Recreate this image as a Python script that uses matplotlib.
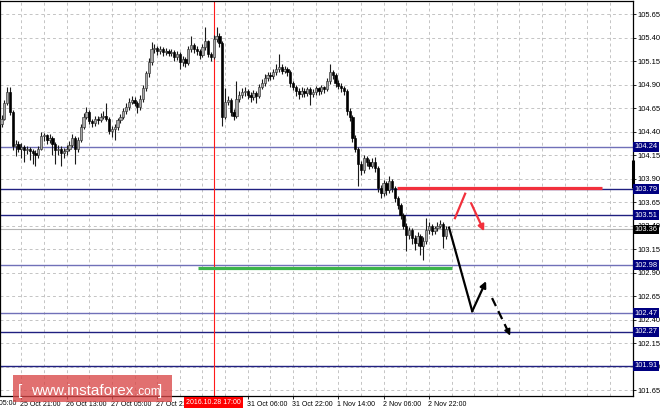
import matplotlib
matplotlib.use("Agg")
import matplotlib.pyplot as plt
from matplotlib.patches import Rectangle
import matplotlib.transforms as mtransforms
import numpy as np

# ---------------- data (USD/JPY H1) ----------------
opens = [104.48, 104.54, 104.70, 104.82, 104.61, 104.25, 104.27, 104.22, 104.24, 104.20,
         104.22, 104.19, 104.17, 104.15, 104.22, 104.35, 104.36, 104.31, 104.33, 104.27,
         104.20, 104.22, 104.17, 104.19, 104.22, 104.26, 104.33, 104.22, 104.31, 104.45,
         104.56, 104.61, 104.51, 104.49, 104.54, 104.52, 104.56, 104.57, 104.54, 104.41,
         104.43, 104.45, 104.52, 104.56, 104.62, 104.66, 104.72, 104.74, 104.71, 104.66,
         104.75, 104.86, 105.02, 105.14, 105.28, 105.29, 105.26, 105.28, 105.25, 105.26,
         105.24, 105.25, 105.19, 105.23, 105.14, 105.17, 105.13, 105.28, 105.32, 105.28,
         105.26, 105.22, 105.30, 105.36, 105.23, 105.19, 105.39, 105.42, 105.34, 104.56,
         104.72, 104.74, 104.61, 104.57, 104.75, 104.79, 104.82, 104.83, 104.79, 104.77,
         104.81, 104.78, 104.88, 104.92, 104.97, 105.00, 104.99, 105.03, 105.07, 105.09,
         105.05, 105.07, 105.04, 104.92, 104.88, 104.83, 104.80, 104.83, 104.81, 104.85,
         104.80, 104.82, 104.86, 104.83, 104.87, 104.85, 104.94, 105.03, 105.00, 104.92,
         104.89, 104.86, 104.83, 104.62, 104.56, 104.33, 104.22, 104.06, 103.99, 104.12,
         104.08, 104.04, 104.08, 104.01, 103.80, 103.75, 103.85, 103.78, 103.87, 103.80,
         103.69, 103.62, 103.51, 103.40, 103.30, 103.35, 103.27, 103.22, 103.29, 103.18,
         103.24, 103.35, 103.40, 103.34, 103.37, 103.40, 103.42, 103.29]
highs = [104.58, 104.74, 104.88, 104.87, 104.63, 104.31, 104.30, 104.28, 104.26, 104.25,
         104.24, 104.22, 104.20, 104.25, 104.40, 104.39, 104.38, 104.37, 104.35, 104.29,
         104.26, 104.25, 104.23, 104.26, 104.30, 104.37, 104.35, 104.34, 104.48, 104.60,
         104.66, 104.63, 104.54, 104.57, 104.57, 104.60, 104.62, 104.70, 104.56, 104.46,
         104.48, 104.55, 104.59, 104.65, 104.70, 104.76, 104.78, 104.77, 104.73, 104.79,
         104.90, 105.05, 105.18, 105.35, 105.33, 105.31, 105.31, 105.30, 105.29, 105.28,
         105.28, 105.27, 105.26, 105.25, 105.20, 105.19, 105.31, 105.42, 105.34, 105.31,
         105.28, 105.33, 105.51, 105.38, 105.25, 105.43, 105.51, 105.45, 105.36, 104.86,
         104.78, 104.76, 104.64, 104.94, 104.83, 104.86, 104.87, 104.85, 104.82, 104.84,
         104.83, 104.91, 104.96, 105.01, 105.04, 105.03, 105.07, 105.12, 105.23, 105.12,
         105.10, 105.09, 105.06, 104.94, 104.90, 104.86, 104.87, 104.86, 104.88, 104.87,
         104.85, 104.89, 104.88, 104.90, 104.89, 104.97, 105.12, 105.06, 105.02, 104.95,
         104.92, 104.89, 104.85, 104.65, 104.58, 104.36, 104.24, 104.09, 104.15, 104.14,
         104.11, 104.12, 104.13, 104.03, 103.83, 103.89, 103.88, 103.93, 103.90, 103.82,
         103.72, 103.64, 103.54, 103.43, 103.39, 103.38, 103.30, 103.33, 103.31, 103.28,
         103.48, 103.44, 103.42, 103.40, 103.44, 103.46, 103.44, 103.40]
lows = [104.45, 104.52, 104.68, 104.58, 104.20, 104.14, 104.18, 104.12, 104.08, 104.16,
        104.10, 104.06, 104.03, 104.12, 104.20, 104.30, 104.27, 104.28, 104.15, 104.06,
        104.15, 104.03, 104.12, 104.15, 104.19, 104.24, 104.06, 104.18, 104.29, 104.43,
        104.53, 104.48, 104.45, 104.46, 104.48, 104.50, 104.53, 104.51, 104.37, 104.34,
        104.31, 104.42, 104.49, 104.53, 104.59, 104.63, 104.69, 104.67, 104.60, 104.63,
        104.72, 104.83, 104.98, 105.11, 105.24, 105.22, 105.23, 105.21, 105.22, 105.20,
        105.20, 105.15, 105.16, 105.07, 105.10, 105.09, 105.11, 105.25, 105.24, 105.22,
        105.17, 105.19, 105.27, 105.19, 105.15, 105.17, 105.35, 105.30, 104.46, 104.53,
        104.68, 104.57, 104.52, 104.55, 104.72, 104.76, 104.78, 104.75, 104.72, 104.74,
        104.70, 104.76, 104.85, 104.89, 104.94, 104.95, 104.96, 105.00, 105.04, 105.01,
        105.02, 104.99, 104.88, 104.84, 104.78, 104.75, 104.77, 104.77, 104.78, 104.68,
        104.77, 104.79, 104.79, 104.80, 104.81, 104.83, 104.91, 104.96, 104.88, 104.85,
        104.82, 104.79, 104.58, 104.51, 104.29, 104.18, 103.82, 103.94, 103.96, 104.04,
        104.00, 104.01, 103.97, 103.76, 103.69, 103.72, 103.73, 103.75, 103.76, 103.65,
        103.58, 103.47, 103.36, 103.13, 103.26, 103.20, 103.14, 103.18, 103.09, 103.04,
        103.21, 103.31, 103.30, 103.31, 103.34, 103.37, 103.16, 103.26]
closes = [104.54, 104.70, 104.82, 104.61, 104.25, 104.27, 104.22, 104.24, 104.20, 104.22,
          104.19, 104.17, 104.15, 104.22, 104.35, 104.36, 104.31, 104.33, 104.27, 104.20,
          104.22, 104.17, 104.19, 104.22, 104.26, 104.33, 104.22, 104.31, 104.45, 104.56,
          104.61, 104.51, 104.49, 104.54, 104.52, 104.56, 104.57, 104.54, 104.41, 104.43,
          104.45, 104.52, 104.56, 104.62, 104.66, 104.72, 104.74, 104.71, 104.66, 104.75,
          104.86, 105.02, 105.14, 105.28, 105.29, 105.26, 105.28, 105.25, 105.26, 105.24,
          105.25, 105.19, 105.23, 105.14, 105.17, 105.13, 105.28, 105.32, 105.28, 105.26,
          105.22, 105.30, 105.36, 105.23, 105.19, 105.39, 105.42, 105.34, 104.56, 104.72,
          104.74, 104.61, 104.57, 104.75, 104.79, 104.82, 104.83, 104.79, 104.77, 104.81,
          104.78, 104.88, 104.92, 104.97, 105.00, 104.99, 105.03, 105.07, 105.09, 105.05,
          105.07, 105.04, 104.92, 104.88, 104.83, 104.80, 104.83, 104.81, 104.85, 104.80,
          104.82, 104.86, 104.83, 104.87, 104.85, 104.94, 105.03, 105.00, 104.92, 104.89,
          104.86, 104.83, 104.62, 104.56, 104.33, 104.22, 104.06, 103.99, 104.12, 104.08,
          104.04, 104.08, 104.01, 103.80, 103.75, 103.85, 103.78, 103.87, 103.80, 103.69,
          103.62, 103.51, 103.40, 103.30, 103.35, 103.27, 103.22, 103.29, 103.18, 103.24,
          103.35, 103.40, 103.34, 103.37, 103.40, 103.42, 103.29, 103.36]

# horizontal support / resistance levels
level_values = [104.24, 103.79, 103.51, 102.98, 102.47, 102.27, 101.91]
level_colors = ["#7070b8", "#202080", "#202080", "#7070b8", "#7070b8", "#202080", "#202080"]
current_price = 103.36

# price scale ticks
ytick_values = [101.65, 101.90, 102.15, 102.40, 102.65, 102.90, 103.15, 103.40,
                103.65, 103.90, 104.15, 104.40, 104.65, 104.90, 105.15, 105.40, 105.65]

# time scale (bar index -> label)
xtick_bars = [7, 23, 39, 55, 71, 87, 103, 119, 135, 151]
xtick_labels = ["25 Oct 21:00", "26 Oct 13:00", "27 Oct 05:00", "27 Oct 21:00",
                "28 Oct 13:00", "31 Oct 06:00", "31 Oct 22:00", "1 Nov 14:00",
                "2 Nov 06:00", "2 Nov 22:00"]
first_hidden_label = (-9, "25 Oct 05:00")
cursor_bar = 75
cursor_label = "2016.10.28 17:00"

# drawn analysis objects (bar index, price)
red_level = ((139.8, 212.2), 103.80)
green_level = ((69.4, 159.2), 102.95)
red_line = [(160.2, 103.48), (163.8, 103.74)]
red_arrow = [(165.9, 103.64), (170.5, 103.34)]
black_line = [(158.1, 103.38), (166.3, 102.49)]
black_arrow = [(166.3, 102.49), (171.2, 102.81)]
black_dash_arrow = [(173.3, 102.63), (179.7, 102.23)]
right_bar = (104.10, 103.80)

# ---------------- figure ----------------
W, H = 664, 413
fig = plt.figure(figsize=(W / 100, H / 100), dpi=100)
fig.patch.set_facecolor("white")
ax = fig.add_axes([0 / W, 17 / H, 633 / W, 395 / H])
ax.set_xlim(-0.53, 223.1)
ax.set_ylim(101.588, 105.79)

FONT = "Liberation Sans"

# grid
for gx in range(7, 224, 8):
    ax.axvline(gx, color="#c4c4c4", lw=0.7, ls=(0, (3, 3)), zorder=0)
for gy in ytick_values:
    ax.axhline(gy, color="#c4c4c4", lw=0.7, ls=(0, (3, 3)), zorder=0)

# levels
for v, col in zip(level_values, level_colors):
    ax.axhline(v, color=col, lw=1.0, zorder=1)
ax.axhline(current_price, color="#b4b4b4", lw=0.8, zorder=1)
ax.axvline(cursor_bar, color="#ff1a1a", lw=0.8, zorder=1)

# candles
o = np.array(opens); h = np.array(highs); l = np.array(lows); c = np.array(closes)
xb = np.arange(len(c))
up = c >= o
ax.vlines(xb, l, h, color="#1a1a1a", lw=0.8, zorder=3)
bottom = np.minimum(o, c)
height = np.maximum(np.abs(c - o), 0.008)
ax.bar(xb[up], height[up], bottom=bottom[up], width=0.8, color="#a8a8a8",
       edgecolor="#333333", linewidth=0.45, zorder=4)
ax.bar(xb[~up], height[~up], bottom=bottom[~up], width=0.8, color="black",
       edgecolor="black", linewidth=0.45, zorder=4)

# drawn objects
ax.plot(red_level[0], [red_level[1]] * 2, color="#f2303c", lw=2.3, zorder=5, solid_capstyle="butt")
ax.plot(green_level[0], [green_level[1]] * 2, color="#3cb44b", lw=2.3, zorder=5, solid_capstyle="butt")
ax.plot([p[0] for p in red_line], [p[1] for p in red_line], color="#f2303c", lw=1.6, zorder=6)
ax.annotate("", xy=red_arrow[1], xytext=red_arrow[0],
            arrowprops=dict(arrowstyle="-|>", color="#f2303c", lw=1.6, mutation_scale=9,
                            shrinkA=0, shrinkB=0), zorder=6)
ax.plot([p[0] for p in black_line], [p[1] for p in black_line], color="black", lw=1.6, zorder=6)
ax.annotate("", xy=black_arrow[1], xytext=black_arrow[0],
            arrowprops=dict(arrowstyle="-|>", color="black", lw=1.6, mutation_scale=9,
                            shrinkA=0, shrinkB=0), zorder=6)
ax.plot([p[0] for p in black_dash_arrow], [p[1] for p in black_dash_arrow], color="black",
        lw=1.6, ls=(0, (4, 2.5)), zorder=6)
ax.annotate("", xy=black_dash_arrow[1],
            xytext=(black_dash_arrow[1][0] - 0.9, black_dash_arrow[1][1] + 0.06),
            arrowprops=dict(arrowstyle="-|>", color="black", lw=1.2, mutation_scale=9,
                            shrinkA=0, shrinkB=0), zorder=6)

# axes styling
for s in ax.spines.values():
    s.set_color("black")
    s.set_linewidth(0.9)
ax.yaxis.tick_right()
ax.set_yticks(ytick_values)
ax.set_yticklabels([f"{v:.2f}" for v in ytick_values], fontsize=5.4, family=FONT)
ax.tick_params(axis="y", direction="out", length=2.2, width=0.6, pad=1.2, colors="black")
ax.set_xticks(xtick_bars)
ax.set_xticklabels(xtick_labels, fontsize=5.0, family=FONT, ha="left")
ax.tick_params(axis="x", direction="out", length=2.2, width=0.6, pad=1.5, colors="black")
offset = mtransforms.ScaledTranslation(-1 / 100, 0, fig.dpi_scale_trans)
for lab in ax.get_xticklabels():
    lab.set_transform(lab.get_transform() + offset)

# partially visible first label
ax.text(first_hidden_label[0], -0.0105, first_hidden_label[1], fontsize=5.0, family=FONT,
        ha="left", va="top", transform=ax.get_xaxis_transform(), clip_on=False)

# boxed price labels
for v in level_values:
    ax.annotate(f"{v:.2f}", xy=(1, v), xycoords=("axes fraction", "data"),
                xytext=(1.3, 0), textcoords="offset points", ha="left", va="center",
                fontsize=5.4, family=FONT, color="white", annotation_clip=False, zorder=10,
                bbox=dict(boxstyle="square,pad=0.18", fc="#000080", ec="none"))
ax.annotate(f"{current_price:.2f}", xy=(1, current_price), xycoords=("axes fraction", "data"),
            xytext=(1.3, 0), textcoords="offset points", ha="left", va="center",
            fontsize=5.4, family=FONT, color="white", annotation_clip=False, zorder=10,
            bbox=dict(boxstyle="square,pad=0.18", fc="black", ec="none"))
ax.plot([1, 1], list(right_bar), transform=ax.get_yaxis_transform(), color="black",
        lw=2.2, clip_on=False, zorder=9, solid_capstyle="butt")

# cursor time label
ax.text(cursor_bar, -0.0175, cursor_label, transform=ax.get_xaxis_transform(),
        ha="center", va="center", fontsize=5.0, family=FONT, color="white", zorder=10,
        clip_on=False, bbox=dict(boxstyle="square,pad=0.3", fc="#ff0000", ec="none"))

# watermark
fig.add_artist(Rectangle((13 / W, (H - 402) / H), 159 / W, 27 / H, transform=fig.transFigure,
                         facecolor="#d94848", alpha=0.78, edgecolor="none", zorder=5))
base = (H - 395) / H
fig.text(18 / W, base, "[", fontsize=11, family=FONT, color="white", va="baseline", zorder=6)
fig.text(31 / W, base, "www.instaforex", fontsize=11, family=FONT, color="white",
         va="baseline", zorder=6)
fig.text(136 / W, base, ".com", fontsize=8.5, family=FONT, color="white", va="baseline", zorder=6)
fig.text(158 / W, base, "]", fontsize=11, family=FONT, color="white", va="baseline", zorder=6)

fig.savefig("out.png", dpi=100)
